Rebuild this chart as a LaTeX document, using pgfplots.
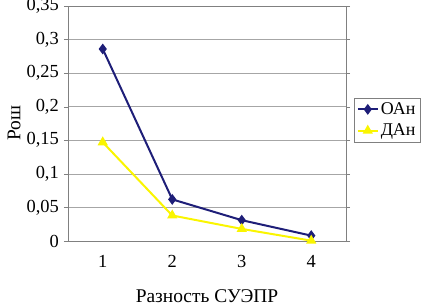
\documentclass[border=0pt]{standalone}
\usepackage{fontspec}
\setmainfont{Liberation Serif}
\usepackage{pgfplots}
\pgfplotsset{compat=1.18}
\definecolor{navyc}{RGB}{30,30,120}
\definecolor{yel}{RGB}{250,245,0}
\begin{document}
\begin{tikzpicture}
\useasboundingbox (-68bp,-65bp) rectangle (356bp,241bp);
\begin{axis}[
  at={(0,0)}, anchor=south west,
  scale only axis, width=278bp, height=235bp,
  xmin=0.5, xmax=4.5, ymin=0, ymax=0.35,
  ytick={0,0.05,0.1,0.15,0.2,0.25,0.3,0.35},
  yticklabels={0,{0,05},{0,1},{0,15},{0,2},{0,25},{0,3},{\raisebox{-2bp}{0,35}}},
  xtick={1,2,3,4},
  xticklabels={1,2,3,4},
  x tick style={draw=none},
  extra x ticks={0.5,1.5,2.5,3.5,4.5},
  extra x tick labels={},
  extra x tick style={major tick length=4bp, tick align=outside, tick style={draw=gray}, grid=none},
  y tick style={draw=gray},
  tick align=outside, major tick length=4bp,
  ymajorgrids, grid style={gray!70, line width=0.6pt},
  axis line style={gray, line width=0.6pt},
  yticklabel style={font=\rmfamily\fontsize{18.5}{19}\selectfont, inner sep=0pt, xshift=-5bp},
  xticklabel style={font=\rmfamily\fontsize{18.5}{19}\selectfont, yshift=-7bp},
  xlabel={Разность СУЭПР}, ylabel={Рош},
  label style={font=\rmfamily\fontsize{19.5}{20}\selectfont},
  xlabel style={at={(axis description cs:0.5,-0.26)}, anchor=base, inner sep=0pt},
  ylabel style={at={(axis description cs:-0.194,0.5)}, anchor=center},
  legend style={at={(rel axis cs:1.029,0.6085)}, anchor=north west, draw=gray, font=\rmfamily\fontsize{18}{19}\selectfont, row sep=4bp, inner sep=2.5bp},
  legend cell align=left,
  legend image code/.code={\draw[mark repeat=2,mark phase=2,#1] plot coordinates {(0bp,0bp) (10bp,0bp) (20bp,0bp)};},
]
\addplot[navyc, line width=2bp, mark=diamond*, mark size=3.8bp] coordinates {(1,0.286) (2,0.062) (3,0.031) (4,0.008)};
\addlegendentry{ОАн}
\addplot[yel, line width=2bp, mark=triangle*, mark size=4bp] coordinates {(1,0.147) (2,0.038) (3,0.018) (4,0.0005)};
\addlegendentry{ДАн}
\end{axis}
\end{tikzpicture}
\end{document}
